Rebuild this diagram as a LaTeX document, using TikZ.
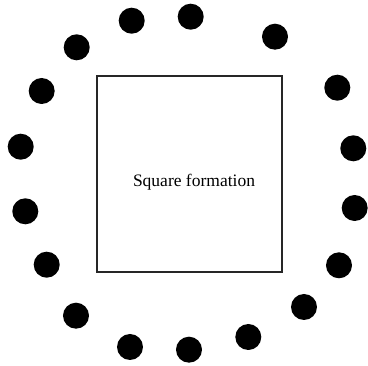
\documentclass[tikz,border=0pt]{standalone}
\usepackage{fontspec}
\setmainfont{Liberation Serif}
\begin{document}
\begin{tikzpicture}[x=1pt,y=-1pt,
  soldier/.style={circle,fill=black,inner sep=0pt,minimum size=26pt},
  box/.style={draw=black!85,line width=1.1pt}]
\useasboundingbox (0,0) rectangle (368,366);
\node[box,minimum width=185pt,minimum height=196pt,inner sep=0pt] (sq) at (189.5,174) {};
\node[font=\fontsize{17.5}{19}\selectfont] (lbl) at (194,182) {Square formation};
\foreach \x/\y [count=\i] in {131.7/20.7,190.7/16.7,275/36.7,337.3/87.7,353.3/148.3,354.7/208,339/265.3,304/307,248.3/337,189/349.7,130/347,76/315.7,46.7/264.7,25.3/211.3,20.7/146.7,41.7/91,76.7/47.3}
  \node[soldier] (d\i) at (\x,\y) {};
\end{tikzpicture}
\end{document}
